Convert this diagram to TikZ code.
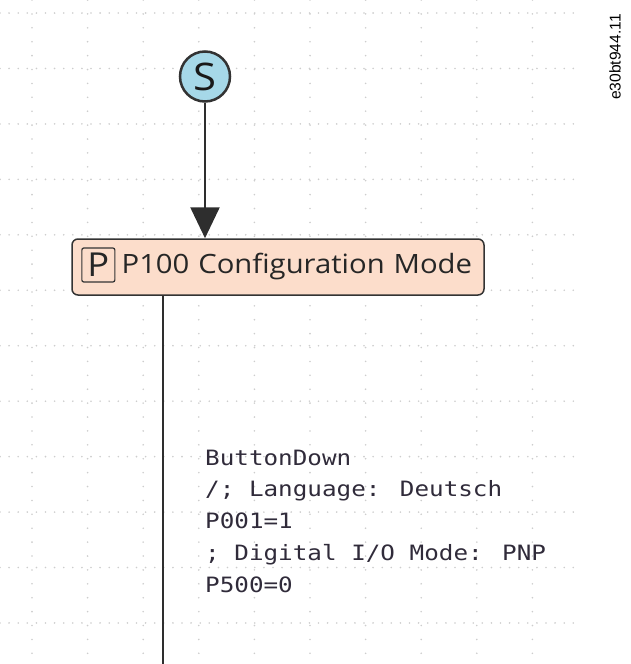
\documentclass[tikz,border=0pt]{standalone}
\usepackage{fontspec}
\setsansfont{Open Sans}
\newfontfamily\boxfont[FakeStretch=1.1]{Open Sans}
\newfontfamily\codefont[FakeStretch=1.15]{DejaVu Sans Mono}
\newfontfamily\tagfont{Liberation Sans}
\usetikzlibrary{positioning, arrows.meta}
\definecolor{startblue}{HTML}{A6D8E8}
\definecolor{stepfill}{HTML}{FCDDCB}
\definecolor{edgegray}{HTML}{333333}
\definecolor{linegray}{HTML}{2E2E2E}
\definecolor{gridgray}{HTML}{CDCDCD}
\definecolor{codeink}{HTML}{302B3A}

\begin{document}
\begin{tikzpicture}[
		x=1pt, y=-1pt,
		start/.style={circle, draw=edgegray, line width=2.5pt, fill=startblue, minimum size=50pt, inner sep=0pt, text=black!90, font=\boxfont\fontsize{38}{38}\selectfont},
		stepbox/.style={draw=edgegray, line width=1.5pt, rounded corners=6pt, fill=stepfill, minimum width=412pt, minimum height=56pt, inner xsep=12pt, text width=388pt, align=right, text=black!85, font=\boxfont\fontsize{26.6}{30}\selectfont},
		badge/.style={draw=edgegray, line width=1.2pt, rounded corners=2pt, minimum width=33pt, minimum height=34pt, inner sep=0pt, text=black!85, font=\boxfont\fontsize{33}{33}\selectfont},
		flow/.style={draw=linegray, line width=2.5pt},
		arrow/.style={flow, -{Triangle[width=29pt, length=31pt]}},
		code/.style={align=left, inner sep=0pt, text=codeink, font=\codefont\fontsize{21.1}{31.7}\selectfont},
		gridrow/.style={gridgray, line width=1.8pt, line cap=round, dash pattern=on 0pt off 9.1pt},
		gridcol/.style={gridgray, line width=1.8pt, line cap=round, dash pattern=on 0pt off 13.9pt}
		]
		
		\useasboundingbox (0,0) rectangle (630,664);
		
		% ==========================================
		% BACKGROUND GRID
		% ==========================================
		\foreach \k in {0,...,11}
			\draw[gridrow] (0,13+55.45*\k) -- (575,13+55.45*\k);
		\foreach \j in {0,...,9}
			\draw[gridcol] (32+55.6*\j,0) -- (32+55.6*\j,664);
		
		% ==========================================
		% STATES
		% ==========================================
		\node[start] (s_start) at (205,76.5) {S};
		\node[stepbox] (p100) at (278,267) {P100 Configuration Mode};
		\node[badge, right=10pt of p100.west, anchor=west, yshift=2pt] (p_badge) {P};
		
		% ==========================================
		% TRANSITIONS
		% ==========================================
		\draw[arrow] (s_start) -- (s_start |- p100.north);
		
		\coordinate (p100_out) at (163,664);
		\draw[flow] (p100.south -| p100_out) -- (p100_out);
		
		% guard and actions (base = last line)
		\node[code, anchor=base west] (t_guard) at (205,592) {
			ButtonDown \\
			/; Language: Deutsch \\
			P001=1 \\
			; Digital I/O Mode: PNP \\
			P500=0
		};
		
		% figure tag
		\node[rotate=90, font=\tagfont\fontsize{15.6}{16}\selectfont] (fig_tag) at (615,57) {e30bt944.11};
		
	\end{tikzpicture}
\end{document}
